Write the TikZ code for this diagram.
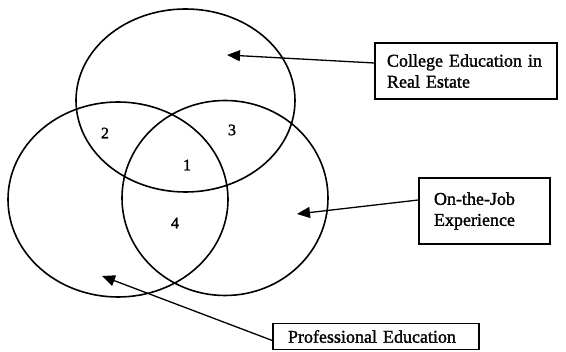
\documentclass[tikz,border=0pt]{standalone}
\usepackage{fontspec}
\setmainfont{Liberation Serif}[BoldFont=Liberation Serif, BoldFeatures={FakeBold=1.5}]
\usepackage{tikz}
\usetikzlibrary{arrows.meta, positioning, shapes.geometric}

\begin{document}
\begin{tikzpicture}[
  x=1pt, y=-1pt,
  >={Triangle[length=13pt, width=11pt]},
  venn/.style={ellipse, draw=black, line width=1.6pt, inner sep=0pt},
  region/.style={font=\fontsize{16}{19}\selectfont\bfseries},
  labelbox/.style={rectangle, draw=black, line width=1.4pt, inner xsep=12pt, inner ysep=2pt, align=left, font=\fontsize{18}{21}\selectfont\bfseries},
  pointer/.style={->, line width=1.3pt}
]
  \useasboundingbox (0,0) rectangle (566,352);

  % Sets
  \node[venn, minimum width=219pt, minimum height=183pt] (college) at (185.5,100.5) {};
  \node[venn, minimum width=220pt, minimum height=195pt] (prof) at (118,199.5) {};
  \node[venn, minimum width=206pt, minimum height=195pt] (job) at (225,198) {};

  % Region numbers
  \node[region] (r1) at (187,165) {1};
  \node[region] (r2) at (105,133) {2};
  \node[region] (r3) at (232,130) {3};
  \node[region] (r4) at (175,223) {4};

  % Label boxes
  \node[labelbox, minimum width=182pt, minimum height=56pt, text width=158pt] (collbox) at (466,71) {College Education in\\Real Estate};
  \node[labelbox, minimum width=125pt, minimum height=66pt, text width=101pt, inner xsep=15pt] (jobbox) at (484.5,211) {On-the-Job\\Experience};
  \node[labelbox, minimum width=206pt, minimum height=26pt, text width=176pt, inner xsep=15pt] (profbox) at (376,336.5) {Professional Education};

  % Arrow tips inside the sets
  \coordinate (tipC) at (227,55);
  \coordinate (tipJ) at (297,214);
  \coordinate (tipP) at (102,276);

  % Pointers
  \draw[pointer] ([yshift=8pt]collbox.west) -- (tipC);
  \draw[pointer] ([yshift=11pt]jobbox.west) -- (tipJ);
  \draw[pointer] ([yshift=-4pt]profbox.west) -- (tipP);
\end{tikzpicture}
\end{document}
